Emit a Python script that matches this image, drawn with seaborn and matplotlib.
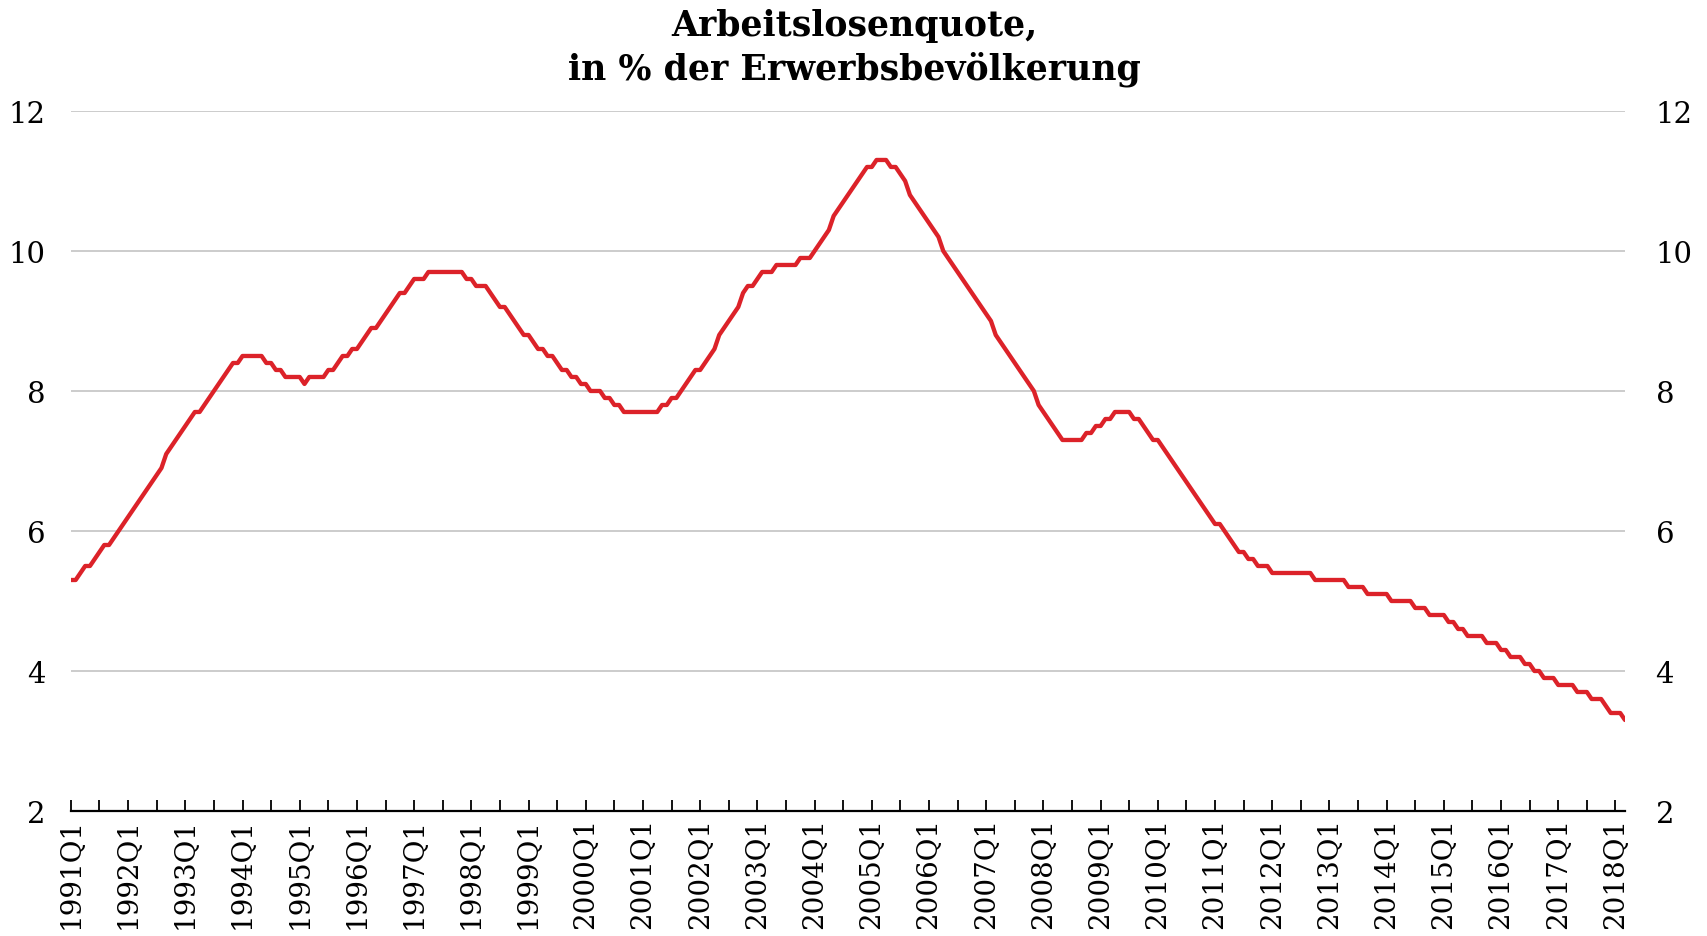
import matplotlib
matplotlib.use("Agg")
import matplotlib.pyplot as plt
import seaborn as sns
import pandas as pd
import numpy as np

# Monthly unemployment rate (%), Jan 1991 - Mar 2018
rate_1991_1999 = [
    5.3, 5.3, 5.4, 5.5, 5.5, 5.6, 5.7, 5.8, 5.8, 5.9, 6.0, 6.1,   # 1991
    6.2, 6.3, 6.4, 6.5, 6.6, 6.7, 6.8, 6.9, 7.1, 7.2, 7.3, 7.4,   # 1992
    7.5, 7.6, 7.7, 7.7, 7.8, 7.9, 8.0, 8.1, 8.2, 8.3, 8.4, 8.4,   # 1993
    8.5, 8.5, 8.5, 8.5, 8.5, 8.4, 8.4, 8.3, 8.3, 8.2, 8.2, 8.2,   # 1994
    8.2, 8.1, 8.2, 8.2, 8.2, 8.2, 8.3, 8.3, 8.4, 8.5, 8.5, 8.6,   # 1995
    8.6, 8.7, 8.8, 8.9, 8.9, 9.0, 9.1, 9.2, 9.3, 9.4, 9.4, 9.5,   # 1996
    9.6, 9.6, 9.6, 9.7, 9.7, 9.7, 9.7, 9.7, 9.7, 9.7, 9.7, 9.6,   # 1997
    9.6, 9.5, 9.5, 9.5, 9.4, 9.3, 9.2, 9.2, 9.1, 9.0, 8.9, 8.8,   # 1998
    8.8, 8.7, 8.6, 8.6, 8.5, 8.5, 8.4, 8.3, 8.3, 8.2, 8.2, 8.1,   # 1999
]
rate_2000_2009 = [
    8.1, 8.0, 8.0, 8.0, 7.9, 7.9, 7.8, 7.8, 7.7, 7.7, 7.7, 7.7,   # 2000
    7.7, 7.7, 7.7, 7.7, 7.8, 7.8, 7.9, 7.9, 8.0, 8.1, 8.2, 8.3,   # 2001
    8.3, 8.4, 8.5, 8.6, 8.8, 8.9, 9.0, 9.1, 9.2, 9.4, 9.5, 9.5,   # 2002
    9.6, 9.7, 9.7, 9.7, 9.8, 9.8, 9.8, 9.8, 9.8, 9.9, 9.9, 9.9,   # 2003
    10.0, 10.1, 10.2, 10.3, 10.5, 10.6, 10.7, 10.8, 10.9, 11.0, 11.1, 11.2,  # 2004
    11.2, 11.3, 11.3, 11.3, 11.2, 11.2, 11.1, 11.0, 10.8, 10.7, 10.6, 10.5,  # 2005
    10.4, 10.3, 10.2, 10.0, 9.9, 9.8, 9.7, 9.6, 9.5, 9.4, 9.3, 9.2,   # 2006
    9.1, 9.0, 8.8, 8.7, 8.6, 8.5, 8.4, 8.3, 8.2, 8.1, 8.0, 7.8,   # 2007
    7.7, 7.6, 7.5, 7.4, 7.3, 7.3, 7.3, 7.3, 7.3, 7.4, 7.4, 7.5,   # 2008
    7.5, 7.6, 7.6, 7.7, 7.7, 7.7, 7.7, 7.6, 7.6, 7.5, 7.4, 7.3,   # 2009
]
rate_2010_2018 = [
    7.3, 7.2, 7.1, 7.0, 6.9, 6.8, 6.7, 6.6, 6.5, 6.4, 6.3, 6.2,   # 2010
    6.1, 6.1, 6.0, 5.9, 5.8, 5.7, 5.7, 5.6, 5.6, 5.5, 5.5, 5.5,   # 2011
    5.4, 5.4, 5.4, 5.4, 5.4, 5.4, 5.4, 5.4, 5.4, 5.3, 5.3, 5.3,   # 2012
    5.3, 5.3, 5.3, 5.3, 5.2, 5.2, 5.2, 5.2, 5.1, 5.1, 5.1, 5.1,   # 2013
    5.1, 5.0, 5.0, 5.0, 5.0, 5.0, 4.9, 4.9, 4.9, 4.8, 4.8, 4.8,   # 2014
    4.8, 4.7, 4.7, 4.6, 4.6, 4.5, 4.5, 4.5, 4.5, 4.4, 4.4, 4.4,   # 2015
    4.3, 4.3, 4.2, 4.2, 4.2, 4.1, 4.1, 4.0, 4.0, 3.9, 3.9, 3.9,   # 2016
    3.8, 3.8, 3.8, 3.8, 3.7, 3.7, 3.7, 3.6, 3.6, 3.6, 3.5, 3.4,   # 2017
    3.4, 3.4, 3.3,                                                # 2018
]
rate = rate_1991_1999 + rate_2000_2009 + rate_2010_2018

years = list(range(1991, 2019))
tick_labels = [f"{y}Q1" for y in years]
y_ticks = [2, 4, 6, 8, 10, 12]

title = "Arbeitslosenquote,\nin % der Erwerbsbevölkerung"

df = pd.DataFrame({"month": np.arange(len(rate)), "rate": rate})

sns.set_theme(style="white")
plt.rcParams["font.family"] = ["DejaVu Serif"]
plt.rcParams["text.color"] = "black"
plt.rcParams["xtick.color"] = "black"
plt.rcParams["ytick.color"] = "black"

fig = plt.figure(figsize=(17.08, 9.37), dpi=100)
ax = fig.add_axes([0.0415, 0.1334, 0.9099, 0.7471])

for v in y_ticks[1:]:
    ax.axhline(v, color="#c8c8c8", lw=1.3, zorder=0)

sns.lineplot(data=df, x="month", y="rate", ax=ax, color="#dc2229",
             lw=3.1, legend=False, zorder=3)

ax.set_xlim(0, len(rate) - 1)
ax.set_ylim(2, 12)
ax.set_xlabel("")
ax.set_ylabel("")

ax.set_xticks([12 * i for i in range(len(years))])
ax.set_xticklabels(tick_labels, rotation=90, fontsize=20, va="top", ha="center")
ax.set_xticks(np.arange(0, len(rate), 6), minor=True)
ax.tick_params(axis="x", which="both", direction="in", length=8, width=1.3,
               color="black", bottom=True, pad=4)
ax.tick_params(axis="x", which="minor", labelbottom=False)

ax.set_yticks(y_ticks)
ax.set_yticklabels([str(v) for v in y_ticks], fontsize=21)
ax.tick_params(axis="y", which="both", length=0, left=False, right=False,
               labelleft=True, labelright=False, pad=18)

ax2 = ax.twinx()
ax2.set_ylim(2, 12)
ax2.set_yticks(y_ticks)
ax2.set_yticklabels([str(v) for v in y_ticks], fontsize=21)
ax2.tick_params(axis="y", length=0, right=False, labelright=True, pad=22)
ax2.grid(False)

for a in (ax, ax2):
    for s in ["left", "right", "top"]:
        a.spines[s].set_visible(False)
ax2.spines["bottom"].set_visible(False)
ax.spines["bottom"].set_color("black")
ax.spines["bottom"].set_linewidth(1.6)
ax.grid(False)

fig.text(0.5, 0.99, title, ha="center", va="top", fontsize=25,
         fontweight="bold", linespacing=1.3)

fig.savefig("out.png", dpi=100, facecolor="white")
